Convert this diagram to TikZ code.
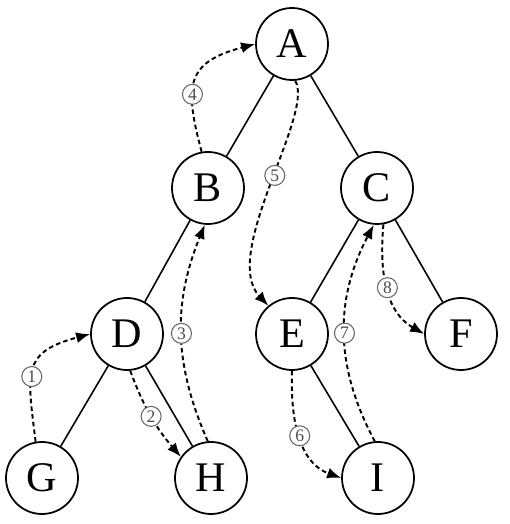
\documentclass[tikz,border=0pt]{standalone}
\usepackage{fontspec}
\setmainfont{Liberation Serif}
\usetikzlibrary{arrows.meta}

\tikzset{
  vertex/.style={circle, draw, line width=1pt, minimum size=1.44cm, inner sep=0pt,
    font=\fontsize{24}{24}\selectfont},
  tree/.style={line width=0.9pt},
  visit/.style={dash pattern=on 2.6pt off 1.8pt, line width=1.1pt,
    -{Latex[length=2.8mm,width=2.2mm]}},
  num/.style={solid, circle, draw=black!60, text=black!70, fill=white, line width=0.6pt,
    minimum size=0.4cm, inner sep=0pt, font=\fontsize{10}{10}\selectfont}
}

\begin{document}
\begin{tikzpicture}
  \useasboundingbox (0,0) rectangle (10.2,10.48);

  % Nodes
  \node[vertex] (A) at (5.84,9.60) {A};
  \node[vertex] (B) at (4.16,6.72) {B};
  \node[vertex] (C) at (7.54,6.72) {C};
  \node[vertex] (D) at (2.54,3.80) {D};
  \node[vertex] (E) at (5.84,3.80) {E};
  \node[vertex] (F) at (9.22,3.80) {F};
  \node[vertex] (G) at (0.84,0.92) {G};
  \node[vertex] (H) at (4.22,0.92) {H};
  \node[vertex] (I) at (7.56,0.92) {I};

  % Tree edges
  \draw[tree] (A) -- (B);
  \draw[tree] (A) -- (C);
  \draw[tree] (B) -- (D);
  \draw[tree] (C) -- (E);
  \draw[tree] (C) -- (F);
  \draw[tree] (D) -- (G);
  \draw[tree] (D) -- (H);
  \draw[tree] (E) -- (I);

  % Visiting order
  \draw[visit] (G.100) to[out=97, in=195, looseness=1.5] node[num, pos=0.42] {1} (D.west);
  \draw[visit] (D.-85) to[bend right=10] node[num, pos=0.5] {2} (H.145);
  \draw[visit] (H.95) to[bend left=23] node[num, pos=0.5] {3} (B.-95);
  \draw[visit] (B.100) to[out=105, in=195, looseness=1.5] node[num, pos=0.36] {4} (A.west);
  \draw[visit] (A.-85) .. controls (6.3,8.2) and (4.4,5.4) .. node[num, pos=0.46] {5} (E.130);
  \draw[visit] (E.-90) to[out=-92, in=160] node[num, pos=0.5] {6} (I.west);
  \draw[visit] (I.95) to[bend left=28] node[num, pos=0.5] {7} (C.-95);
  \draw[visit] (C.-80) to[out=-95, in=150] node[num, pos=0.5] {8} (F.west);
\end{tikzpicture}
\end{document}
